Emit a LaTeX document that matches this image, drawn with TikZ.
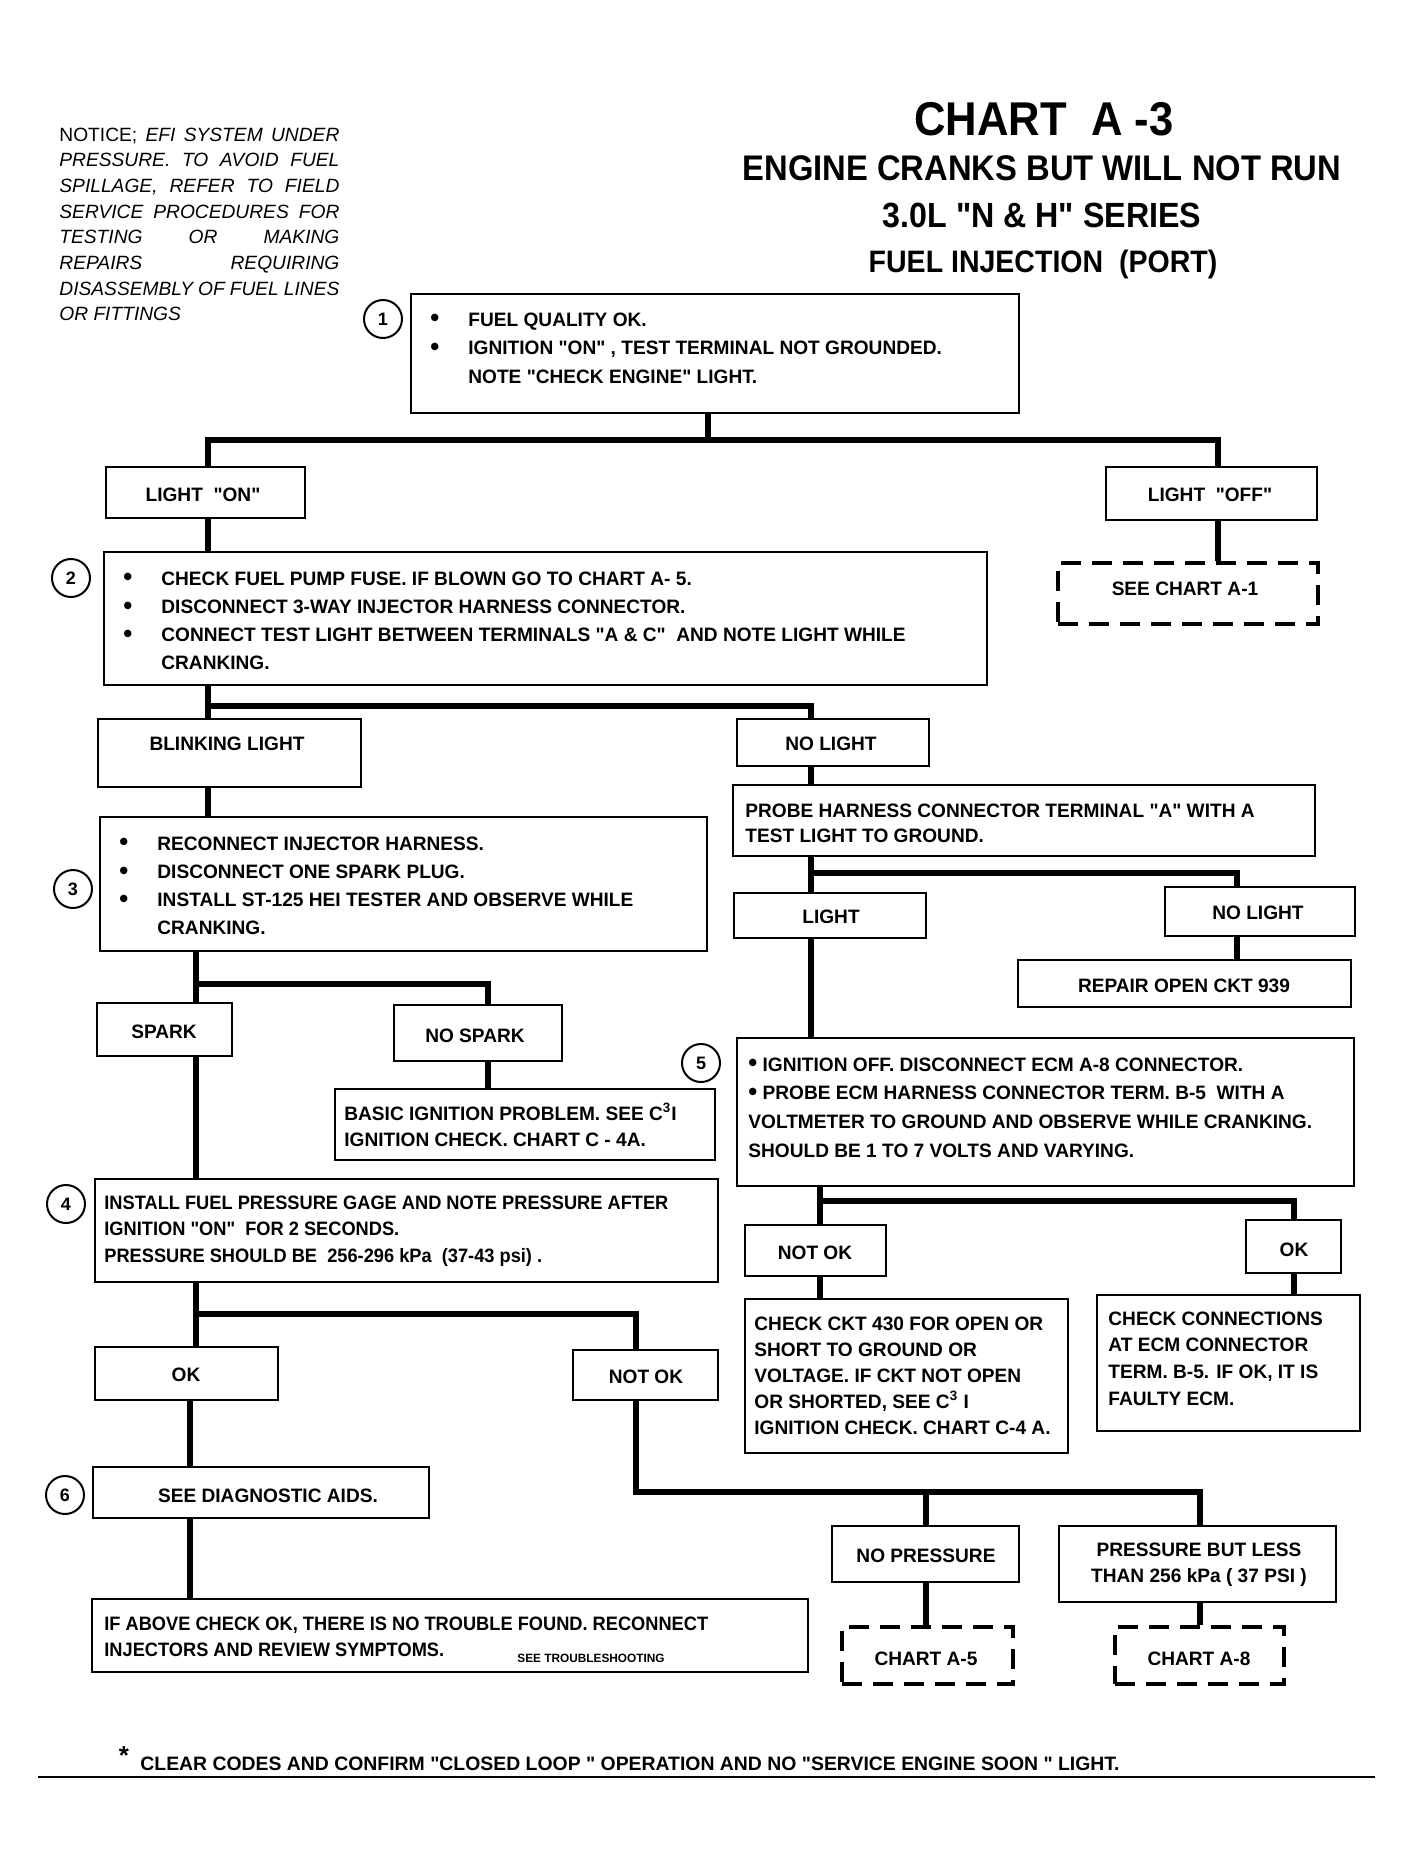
\documentclass[tikz,border=0pt]{standalone}
\usepackage{fontspec}
\setmainfont{Liberation Sans}
\newfontfamily\bxfont[FakeStretch=0.985]{Liberation Sans}
\newfontfamily\bxn[FakeStretch=0.94]{Liberation Sans}
\newfontfamily\bxw[FakeStretch=1.0]{Liberation Sans}
\newfontfamily\ttlfont[FakeStretch=0.92]{Liberation Sans}
\usetikzlibrary{fit}
\newcommand\bdot{\raisebox{-0.4pt}{\fontsize{13}{13}\selectfont •}}
\newcommand\bul{\makebox[19pt][l]{\bdot}}
\newcommand\ind{\hspace*{19pt}}
\newcommand\txtlines[5]{%
  \foreach \lineText [count=\i] in {#5} {%
    \node[txt, anchor=base west] (#1\i) at (#2,{#3+(\i-1)*#4}) {\lineText};}}
\begin{document}
\begin{tikzpicture}[x=0.5pt,y=-0.5pt,
  box/.style={draw, line width=1pt, inner sep=0pt},
  dbox/.style={draw, line width=1.9pt, dash pattern=on 10pt off 5.5pt, inner sep=0pt},
  conn/.style={line width=2.6pt, line join=miter},
  txt/.style={inner sep=0pt, font=\bxfont\bfseries\fontsize{9.7}{11}\selectfont},
  ntc/.style={inner sep=0pt, anchor=base west, font=\fontsize{9.6}{11}\selectfont},
  circ/.style={draw, circle, line width=1pt, minimum size=19pt, inner sep=0pt, font=\bfseries\fontsize{9}{10}\selectfont}]
\useasboundingbox (0,0) rectangle (1413,1854);

% ---------- notice ----------
\node[ntc] (n1) at (59,141) {\makebox[140pt][s]{NOTICE; \itshape EFI SYSTEM UNDER}};
\node[ntc] (n2) at (59,166.7) {\itshape\makebox[140pt][s]{PRESSURE. TO AVOID FUEL}};
\node[ntc] (n3) at (59,192.4) {\itshape\makebox[140pt][s]{SPILLAGE, REFER TO FIELD}};
\node[ntc] (n4) at (59,218.1) {\itshape\makebox[140pt][s]{SERVICE PROCEDURES FOR}};
\node[ntc] (n5) at (59,243.8) {\itshape\makebox[140pt][s]{TESTING OR MAKING}};
\node[ntc] (n6) at (59,269.5) {\itshape\makebox[140pt][s]{REPAIRS REQUIRING}};
\node[ntc] (n7) at (59,295.2) {\itshape\makebox[140pt][s]{DISASSEMBLY OF FUEL LINES}};
\node[ntc] (n8) at (59,320.9) {\itshape OR FITTINGS};

% ---------- title ----------
\node[inner sep=0pt, anchor=base, font=\ttlfont\bfseries\fontsize{23.7}{26}\selectfont] (t1) at (1044,135) {CHART\ \ A -3};
\node[inner sep=0pt, anchor=base, font=\ttlfont\bfseries\fontsize{17.8}{20}\selectfont] (t2) at (1042,180) {ENGINE CRANKS BUT WILL NOT RUN};
\node[inner sep=0pt, anchor=base, font=\ttlfont\bfseries\fontsize{17.5}{20}\selectfont] (t3) at (1042,227) {3.0L "N \& H" SERIES};
\node[inner sep=0pt, anchor=base, font=\ttlfont\bfseries\fontsize{15.5}{18}\selectfont] (t4) at (1043,272) {FUEL INJECTION\ \ (PORT)};

% ---------- boxes ----------
\node[box, fit={(411,294)(1019,413)}] (b1) {};
\node[box, fit={(106,467)(305,518)}] (lon) {};
\node[box, fit={(1106,467)(1317,520)}] (loff) {};
\node[dbox, fit={(1058,563)(1318,624)}] (sa1) {};
\node[box, fit={(104,552)(987,685)}] (b2) {};
\node[box, fit={(98,719)(361,787)}] (bl) {};
\node[box, fit={(737,719)(929,766)}] (nl1) {};
\node[box, fit={(733,785)(1315,856)}] (pr) {};
\node[box, fit={(100,817)(707,951)}] (b3) {};
\node[box, fit={(734,893)(926,938)}] (lt) {};
\node[box, fit={(1165,887)(1355,936)}] (nl2) {};
\node[box, fit={(1018,960)(1351,1007)}] (rp) {};
\node[box, fit={(737,1038)(1354,1186)}] (b5) {};
\node[box, fit={(97,1003)(232,1056)}] (sp) {};
\node[box, fit={(394,1005)(562,1061)}] (ns) {};
\node[box, fit={(335,1089)(715,1160)}] (bi) {};
\node[box, fit={(95,1179)(718,1282)}] (b4) {};
\node[box, fit={(95,1347)(278,1400)}] (ok1) {};
\node[box, fit={(573,1350)(718,1400)}] (nok1) {};
\node[box, fit={(93,1467)(429,1518)}] (sd) {};
\node[box, fit={(92,1599)(808,1672)}] (ia) {};
\node[box, fit={(832,1526)(1019,1582)}] (np) {};
\node[box, fit={(1059,1526)(1336,1602)}] (pbl) {};
\node[dbox, fit={(842,1627)(1013,1684)}] (ca5) {};
\node[dbox, fit={(1115,1627)(1284,1684)}] (ca8) {};
\node[box, fit={(745,1225)(886,1276)}] (nok2) {};
\node[box, fit={(1246,1220)(1341,1273)}] (ok2) {};
\node[box, fit={(745,1299)(1068,1453)}] (cc) {};
\node[box, fit={(1097,1295)(1360,1431)}] (cn) {};

% ---------- circles ----------
\node[circ] (c1) at (383,319) {1};
\node[circ] (c2) at (71,578) {2};
\node[circ] (c3) at (73,889) {3};
\node[circ] (c4) at (66,1204) {4};
\node[circ] (c5) at (701,1063) {5};
\node[circ] (c6) at (65,1495) {6};

% ---------- texts ----------
\txtlines{b1t}{430}{326}{28.5}{{\bul FUEL QUALITY OK.},{\bul IGNITION "ON" , TEST TERMINAL NOT GROUNDED.},{\ind NOTE "CHECK ENGINE" LIGHT.}}
\txtlines{b2t}{123}{585}{28.3}{{\bul CHECK FUEL PUMP FUSE. IF BLOWN GO TO CHART A- 5.},{\bul DISCONNECT 3-WAY INJECTOR HARNESS CONNECTOR.},{\bul CONNECT TEST LIGHT BETWEEN TERMINALS "A \& C"\ \ AND NOTE LIGHT WHILE},{\ind CRANKING.}}
\txtlines{prt}{745}{817}{25}{{PROBE HARNESS CONNECTOR TERMINAL "A" WITH A},{TEST LIGHT TO GROUND.}}
\txtlines{b3t}{119}{850}{28.3}{{\bul RECONNECT INJECTOR HARNESS.},{\bul DISCONNECT ONE SPARK PLUG.},{\bul INSTALL ST-125 HEI TESTER AND OBSERVE WHILE},{\ind CRANKING.}}
\txtlines{b5t}{748}{1071}{28.7}{{\bdot\ IGNITION OFF. DISCONNECT ECM A-8 CONNECTOR.},{\bdot\ PROBE ECM HARNESS CONNECTOR TERM. B-5\ \ WITH A},{VOLTMETER TO GROUND AND OBSERVE WHILE CRANKING.},{SHOULD BE 1 TO 7 VOLTS AND VARYING.}}
\txtlines{bit}{344}{1120}{26}{{BASIC IGNITION PROBLEM. SEE C\textsuperscript{3}I},{IGNITION CHECK. CHART C - 4A.}}
\txtlines{b4t}{104}{1209}{26.5}{{\bxn INSTALL FUEL PRESSURE GAGE AND NOTE PRESSURE AFTER},{\bxn IGNITION "ON"\ \ FOR 2 SECONDS.},{\bxn PRESSURE SHOULD BE\ \ 256-296 kPa\ \ (37-43 psi) .}}
\txtlines{cct}{754}{1330}{26}{{CHECK CKT 430 FOR OPEN OR},{SHORT TO GROUND OR},{VOLTAGE. IF CKT NOT OPEN},{OR SHORTED, SEE C\textsuperscript{3} I},{IGNITION CHECK. CHART C-4 A.}}
\txtlines{cnt}{1108}{1325}{26.7}{{CHECK CONNECTIONS},{AT ECM CONNECTOR},{TERM. B-5. IF OK, IT IS},{FAULTY ECM.}}
\txtlines{iat}{104}{1630}{26}{{\bxn IF ABOVE CHECK OK, THERE IS NO TROUBLE FOUND. RECONNECT},{\bxn INJECTORS AND REVIEW SYMPTOMS.}}
\node[inner sep=0pt, anchor=base, font=\bxfont\bfseries\fontsize{6}{7}\selectfont] (tsh) at (591,1662) {SEE TROUBLESHOOTING};

\node[txt, anchor=base] (lont) at (203,501) {LIGHT\ \ "ON"};
\node[txt, anchor=base] (lofft) at (1210,501) {LIGHT\ \ "OFF"};
\node[txt, anchor=base] (sa1t) at (1185,595) {SEE CHART A-1};
\node[txt, anchor=base] (blt) at (227,750) {BLINKING LIGHT};
\node[txt, anchor=base] (nl1t) at (831,750) {NO LIGHT};
\node[txt, anchor=base] (ltt) at (831,923) {LIGHT};
\node[txt, anchor=base] (nl2t) at (1258,919) {NO LIGHT};
\node[txt, anchor=base] (rpt) at (1184,992) {REPAIR OPEN CKT 939};
\node[txt, anchor=base] (spt) at (164,1038) {SPARK};
\node[txt, anchor=base] (nst) at (475,1042) {NO SPARK};
\node[txt, anchor=base] (ok1t) at (186,1381) {OK};
\node[txt, anchor=base] (nok1t) at (646,1383) {NOT OK};
\node[txt, anchor=base] (sdt) at (268,1502) {SEE DIAGNOSTIC AIDS.};
\node[txt, anchor=base] (npt) at (926,1562) {NO PRESSURE};
\node[txt, anchor=base] (pblt1) at (1199,1556) {PRESSURE BUT LESS};
\node[txt, anchor=base] (pblt2) at (1199,1582) {THAN 256 kPa ( 37 PSI )};
\node[txt, anchor=base] (ca5t) at (926,1665) {CHART A-5};
\node[txt, anchor=base] (ca8t) at (1199,1665) {CHART A-8};
\node[txt, anchor=base] (nok2t) at (815,1259) {NOT OK};
\node[txt, anchor=base] (ok2t) at (1294,1256) {OK};

% ---------- footnote ----------
\node[inner sep=0pt, anchor=base, font=\bfseries\fontsize{13}{14}\selectfont] (ast) at (124,1764) {*};
\node[txt, anchor=base west] (fn) at (140,1770) {\bxw CLEAR CODES AND CONFIRM "CLOSED LOOP " OPERATION AND NO "SERVICE ENGINE SOON " LIGHT.};
\coordinate (rl) at (38,1777);
\coordinate (rr) at (1375,1777);
\draw[line width=0.6pt] (rl) -- (rr);

% ---------- junction coordinates ----------
\coordinate (j1) at (708,440);
\coordinate (j1l) at (208,440);
\coordinate (j1r) at (1218,440);
\coordinate (j2l) at (208,706);
\coordinate (j2r) at (811,706);
\coordinate (j4l) at (811,873);
\coordinate (j4r) at (1237,873);
\coordinate (j3l) at (196,984);
\coordinate (j3r) at (488,984);
\coordinate (j5l) at (196,1314);
\coordinate (j5r) at (636,1314);
\coordinate (x190) at (190,1450);
\coordinate (j6l) at (636,1492);
\coordinate (j6m) at (926,1492);
\coordinate (j6r) at (1200,1492);
\coordinate (j7l) at (820,1201);
\coordinate (j7r) at (1294,1201);

% ---------- connectors ----------
\draw[conn] (b1.south -| j1) -- (j1);
\draw[conn] (lon.north -| j1l) -- (j1l) -- (j1r) -- (loff.north -| j1r);
\draw[conn] (lon.south -| j1l) -- (b2.north -| j1l);
\draw[conn] (loff.south -| j1r) -- (sa1.north -| j1r);
\draw[conn] (b2.south -| j2l) -- (bl.north -| j2l);
\draw[conn] (j2l) -- (j2r) -- (nl1.north -| j2r);
\draw[conn] (bl.south -| j2l) -- (b3.north -| j2l);
\draw[conn] (nl1.south -| j2r) -- (pr.north -| j2r);
\draw[conn] (pr.south -| j4l) -- (lt.north -| j4l);
\draw[conn] (j4l) -- (j4r) -- (nl2.north -| j4r);
\draw[conn] (nl2.south -| j4r) -- (rp.north -| j4r);
\draw[conn] (lt.south -| j4l) -- (b5.north -| j4l);
\draw[conn] (b3.south -| j3l) -- (sp.north -| j3l);
\draw[conn] (j3l) -- (j3r) -- (ns.north -| j3r);
\draw[conn] (ns.south -| j3r) -- (bi.north -| j3r);
\draw[conn] (sp.south -| j3l) -- (b4.north -| j3l);
\draw[conn] (b4.south -| j5l) -- (ok1.north -| j5l);
\draw[conn] (j5l) -- (j5r) -- (nok1.north -| j5r);
\draw[conn] (ok1.south -| x190) -- (sd.north -| x190);
\draw[conn] (sd.south -| x190) -- (ia.north -| x190);
\draw[conn] (nok1.south -| j6l) -- (j6l) -- (j6r) -- (pbl.north -| j6r);
\draw[conn] (j6m) -- (np.north -| j6m);
\draw[conn] (np.south -| j6m) -- (ca5.north -| j6m);
\draw[conn] (pbl.south -| j6r) -- (ca8.north -| j6r);
\draw[conn] (b5.south -| j7l) -- (nok2.north -| j7l);
\draw[conn] (j7l) -- (j7r) -- (ok2.north -| j7r);
\draw[conn] (nok2.south -| j7l) -- (cc.north -| j7l);
\draw[conn] (ok2.south -| j7r) -- (cn.north -| j7r);
\end{tikzpicture}
\end{document}
